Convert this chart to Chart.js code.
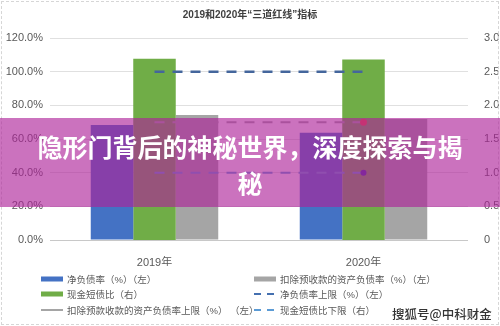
<!DOCTYPE html>
<html lang="zh">
<head>
    <meta charset="UTF-8">
    <title>2019和2020年“三道红线”指标</title>
    <script src="https://cdn.jsdelivr.net/npm/chart.js"></script>
    <style>
        html, body { margin: 0; padding: 0; background: #fff; }
        #wrap { position: relative; width: 500px; height: 326px; overflow: hidden; }
        #frame { position: absolute; left: 1px; top: 1px; right: 1px; bottom: 1px; border: 1px dashed #d6d6d6; }
        #legend {
            position: absolute; left: 41px; top: 271px;
            display: grid; grid-template-columns: 213px auto; grid-auto-rows: 15.5px;
            font: 9.5px "Liberation Sans", "Noto Sans CJK SC", sans-serif; color: #595959;
        }
        #legend .item { display: flex; align-items: center; white-space: pre; }
        #legend svg { margin-right: 4px; flex: none; }
        #banner { position: absolute; left: 0; top: 118px; width: 500px; height: 89px; background: rgba(173, 35, 153, 0.64); }
        #banner div {
            position: absolute; left: 30px; top: 10px; width: 440px; text-align: center;
            font: bold 25px/36px "Noto Sans CJK SC", sans-serif; color: #fff;
        }
        #mark {
            position: absolute; left: 392px; top: 304px;
            font: 500 12.5px "Noto Sans CJK SC", sans-serif; color: #333;
            text-shadow: 0 0 2px #fff;
        }
    </style>
</head>
<body>
<div id="wrap">
    <div id="frame"></div>
    <canvas id="chart" width="500" height="326"></canvas>
    <div id="legend"></div>
    <div id="banner"><div>隐形门背后的神秘世界，深度探索与揭秘</div></div>
    <div id="mark">搜狐号@中科财金</div>
</div>
<script>
    // data
    const years = ['2019年', '2020年'];
    const netDebtRatio = [68.3, 63.7];        // 净负债率 (%), left axis
    const cashShortDebt = [2.69, 2.68];       // 现金短债比, right axis
    const assetLiabRatio = [74.3, 71.9];      // 扣除预收款的资产负债率 (%), left axis
    const netDebtCap = [100, 100];            // 净负债率上限
    const assetLiabCap = [70, 70];            // 资产负债率上限
    const cashShortDebtFloor = [1, 1];        // 现金短债比下限
    const leftMax = 120, leftStep = 20;
    const rightMax = 3, rightStep = 0.5;

    const font = '"Liberation Sans", "Noto Sans CJK SC", sans-serif';
    const grey = '#595959';

    const datasets = [
        { type: 'bar', label: '净负债率（%）（左）', data: netDebtRatio, yAxisID: 'y',
          backgroundColor: '#4472c4', order: 1, swatch: 'box' },
        { type: 'bar', label: '现金短债比（右）', data: cashShortDebt, yAxisID: 'y1',
          backgroundColor: '#70ad47', order: 1, swatch: 'box' },
        { type: 'bar', label: '扣除预收款的资产负债率（%）（左）', data: assetLiabRatio, yAxisID: 'y',
          backgroundColor: '#a5a5a5', order: 1, swatch: 'box' },
        { type: 'line', label: '净负债率上限（%）（左）', data: netDebtCap, yAxisID: 'y',
          borderColor: '#44669c', borderWidth: 2.5, borderDash: [10, 8], pointRadius: 0,
          order: 0, swatch: 'dash', swatchColor: '#4570b0' },
        { type: 'line', label: '扣除预款收款的资产负债率上限（%） （左）', data: assetLiabCap, yAxisID: 'y',
          borderColor: '#a5a5a5', borderWidth: 2, borderDash: [10, 8],
          pointRadius: [0, 3.5], pointBackgroundColor: '#ef4f33', pointBorderWidth: 0,
          order: 0, swatch: 'line' },
        { type: 'line', label: '现金短债比下限（右）', data: cashShortDebtFloor, yAxisID: 'y1',
          borderColor: '#5b9bd5', borderWidth: 2, borderDash: [10, 8],
          pointRadius: [0, 3], pointBackgroundColor: '#3b2fa0', pointBorderWidth: 0,
          order: 0, swatch: 'dash' }
    ];

    new Chart(document.getElementById('chart'), {
        data: { labels: years, datasets: datasets },
        options: {
            responsive: false,
            animation: false,
            layout: { padding: { bottom: 60 } },
            datasets: { bar: { categoryPercentage: 0.61, barPercentage: 1 } },
            plugins: {
                legend: { display: false },
                tooltip: { enabled: false },
                title: {
                    display: true,
                    text: '2019和2020年“三道红线”指标',
                    color: '#404040',
                    font: { family: font, size: 10, weight: 'bold' },
                    padding: { top: 9, bottom: 17 }
                }
            },
            scales: {
                x: {
                    grid: { display: false },
                    border: { display: false },
                    ticks: { color: grey, font: { family: font, size: 11 }, padding: 8 },
                    afterFit: s => { s.height = 26; }
                },
                y: {
                    position: 'left', min: 0, max: leftMax,
                    ticks: { stepSize: leftStep, color: grey, padding: 7,
                             font: { family: font, size: 11 },
                             callback: v => v.toFixed(1) + '%' },
                    grid: { drawTicks: false, lineWidth: 1,
                            color: c => c.tick && c.tick.value === 0 ? '#c8c8c8' : '#e0e0e0' },
                    border: { display: false },
                    afterFit: s => { s.width = 50; }
                },
                y1: {
                    position: 'right', min: 0, max: rightMax,
                    ticks: { stepSize: rightStep, color: grey, padding: 8,
                             font: { family: font, size: 11 } },
                    grid: { display: false },
                    border: { display: false },
                    afterFit: s => { s.width = 32; }
                }
            }
        }
    });

    // legend laid out in two columns like the original
    const legendOrder = [0, 2, 1, 3, 4, 5];
    const legend = document.getElementById('legend');
    legendOrder.forEach(i => {
        const d = datasets[i];
        const col = d.swatchColor || d.backgroundColor || d.borderColor;
        let svg;
        if (d.swatch === 'box') {
            svg = `<svg width="22" height="6"><rect x="0" y="0.5" width="22" height="5" fill="${col}"/></svg>`;
        } else if (d.swatch === 'line') {
            svg = `<svg width="22" height="6"><line x1="0" y1="3" x2="22" y2="3" stroke="${col}" stroke-width="2"/></svg>`;
        } else {
            svg = `<svg width="22" height="6"><line x1="0" y1="3" x2="22" y2="3" stroke="${col}" stroke-width="2" stroke-dasharray="7,6"/></svg>`;
        }
        const item = document.createElement('div');
        item.className = 'item';
        item.innerHTML = svg + '<span>' + d.label + '</span>';
        legend.appendChild(item);
    });
</script>
</body>
</html>
